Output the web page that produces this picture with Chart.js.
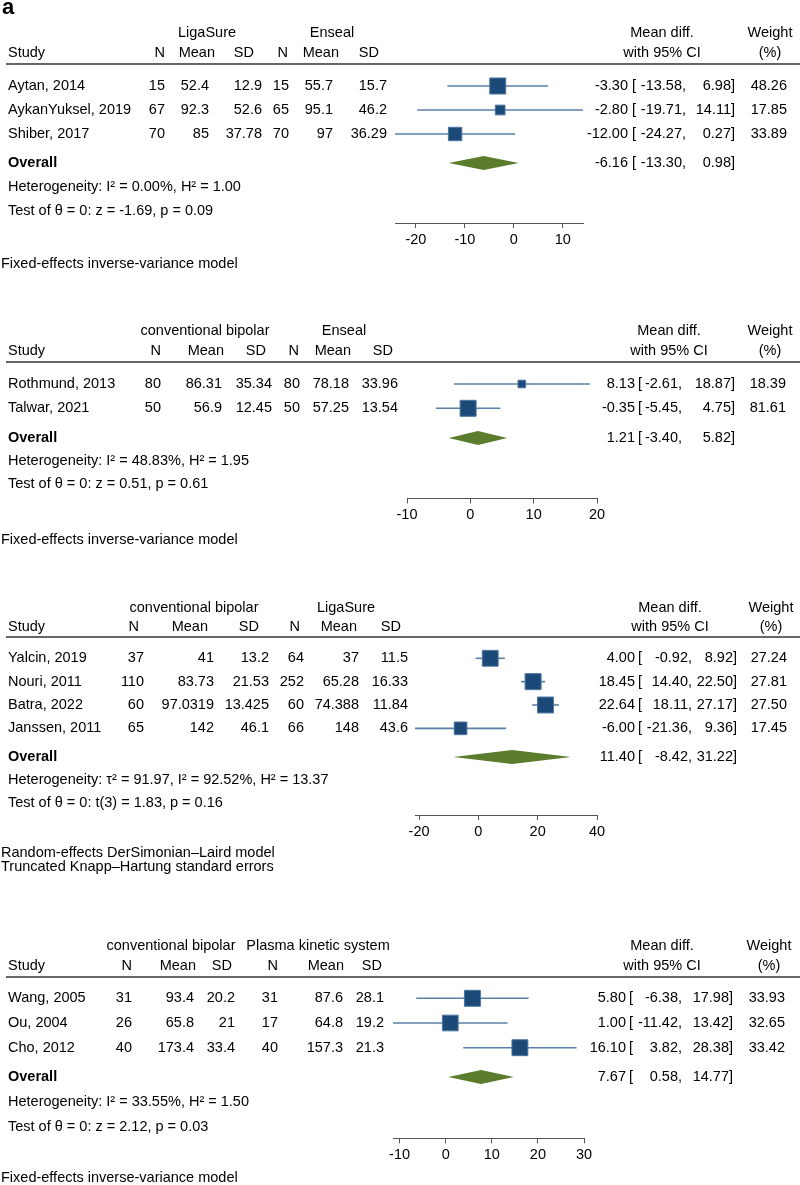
<!DOCTYPE html>
<html><head><meta charset="utf-8">
<script src="https://cdn.jsdelivr.net/npm/chart.js@4.4.1/dist/chart.umd.min.js"></script>
<style>
html,body{margin:0;padding:0;background:#fff;}
body{width:800px;height:1185px;position:relative;overflow:hidden;}
canvas{position:absolute;left:0;}
</style></head>
<body>
<canvas id="c1" width="800" height="280" style="top:0px"></canvas>
<canvas id="c2" width="800" height="270" style="top:280px"></canvas>
<canvas id="c3" width="800" height="330" style="top:550px"></canvas>
<canvas id="c4" width="800" height="305" style="top:880px"></canvas>
<script>
// ---------- DATA ----------
// Panel a1: LigaSure vs Enseal
const p1Groups = ["LigaSure", "Enseal"];
const p1Studies = ["Aytan, 2014", "AykanYuksel, 2019", "Shiber, 2017"];
const p1N1 = [15, 67, 70];
const p1Mean1 = [52.4, 92.3, 85];
const p1SD1 = [12.9, 52.6, 37.78];
const p1N2 = [15, 65, 70];
const p1Mean2 = [55.7, 95.1, 97];
const p1SD2 = [15.7, 46.2, 36.29];
const p1Est = [-3.30, -2.80, -12.00];
const p1Lo = [-13.58, -19.71, -24.27];
const p1Hi = [6.98, 14.11, 0.27];
const p1Weight = [48.26, 17.85, 33.89];
const p1Overall = [-6.16, -13.30, 0.98];
const p1Ticks = [-20, -10, 0, 10];
const p1Het = "Heterogeneity: I\u00B2 = 0.00%, H\u00B2 = 1.00";
const p1Test = "Test of \u03B8 = 0: z = -1.69, p = 0.09";
const p1Model = ["Fixed-effects inverse-variance model"];

// Panel 2: conventional bipolar vs Enseal
const p2Groups = ["conventional bipolar", "Enseal"];
const p2Studies = ["Rothmund, 2013", "Talwar, 2021"];
const p2N1 = [80, 50];
const p2Mean1 = [86.31, 56.9];
const p2SD1 = [35.34, 12.45];
const p2N2 = [80, 50];
const p2Mean2 = [78.18, 57.25];
const p2SD2 = [33.96, 13.54];
const p2Est = [8.13, -0.35];
const p2Lo = [-2.61, -5.45];
const p2Hi = [18.87, 4.75];
const p2Weight = [18.39, 81.61];
const p2Overall = [1.21, -3.40, 5.82];
const p2Ticks = [-10, 0, 10, 20];
const p2Het = "Heterogeneity: I\u00B2 = 48.83%, H\u00B2 = 1.95";
const p2Test = "Test of \u03B8 = 0: z = 0.51, p = 0.61";
const p2Model = ["Fixed-effects inverse-variance model"];

// Panel 3: conventional bipolar vs LigaSure
const p3Groups = ["conventional bipolar", "LigaSure"];
const p3Studies = ["Yalcin, 2019", "Nouri, 2011", "Batra, 2022", "Janssen, 2011"];
const p3N1 = [37, 110, 60, 65];
const p3Mean1 = [41, 83.73, 97.0319, 142];
const p3SD1 = [13.2, 21.53, 13.425, 46.1];
const p3N2 = [64, 252, 60, 66];
const p3Mean2 = [37, 65.28, 74.388, 148];
const p3SD2 = [11.5, 16.33, 11.84, 43.6];
const p3Est = [4.00, 18.45, 22.64, -6.00];
const p3Lo = [-0.92, 14.40, 18.11, -21.36];
const p3Hi = [8.92, 22.50, 27.17, 9.36];
const p3Weight = [27.24, 27.81, 27.50, 17.45];
const p3Overall = [11.40, -8.42, 31.22];
const p3Ticks = [-20, 0, 20, 40];
const p3Het = "Heterogeneity: \u03C4\u00B2 = 91.97, I\u00B2 = 92.52%, H\u00B2 = 13.37";
const p3Test = "Test of \u03B8 = 0: t(3) = 1.83, p = 0.16";
const p3Model = ["Random-effects DerSimonian\u2013Laird model", "Truncated Knapp\u2013Hartung standard errors"];

// Panel 4: conventional bipolar vs Plasma kinetic system
const p4Groups = ["conventional bipolar", "Plasma kinetic system"];
const p4Studies = ["Wang, 2005", "Ou, 2004", "Cho, 2012"];
const p4N1 = [31, 26, 40];
const p4Mean1 = [93.4, 65.8, 173.4];
const p4SD1 = [20.2, 21, 33.4];
const p4N2 = [31, 17, 40];
const p4Mean2 = [87.6, 64.8, 157.3];
const p4SD2 = [28.1, 19.2, 21.3];
const p4Est = [5.80, 1.00, 16.10];
const p4Lo = [-6.38, -11.42, 3.82];
const p4Hi = [17.98, 13.42, 28.38];
const p4Weight = [33.93, 32.65, 33.42];
const p4Overall = [7.67, 0.58, 14.77];
const p4Ticks = [-10, 0, 10, 20, 30];
const p4Het = "Heterogeneity: I\u00B2 = 33.55%, H\u00B2 = 1.50";
const p4Test = "Test of \u03B8 = 0: z = 2.12, p = 0.03";
const p4Model = ["Fixed-effects inverse-variance model"];

// ---------- LAYOUT (pixel positions relative to each panel canvas) ----------
const FONT = '"Liberation Sans", Arial, Helvetica, sans-serif';
const FS = 14.5;
const L1 = {H:280, groupY:33, headY:53, lineY:64, row0:86, pitch:24, overallY:163, hetY:187, testY:211, axisY:223, modelY:[264],
  groupX:[207,332], headX:[165,215,254,288,339,379], dataX:[165,209,262,289,333,387],
  mdX:662, wX:770, estX:628, brX:632, loX:686, hiX:735, wtX:787, plotL:395, plotR:583, label:true};
const L2 = {H:270, groupY:51, headY:71, lineY:82, row0:104, pitch:24.3, overallY:158, hetY:181, testY:204, axisY:218.5, modelY:[260],
  groupX:[205,344], headX:[161,224,266,299,351,393], dataX:[161,222,272,300,349,398],
  mdX:669, wX:770, estX:635, brX:638, loX:682, hiX:735, wtX:786, plotL:407, plotR:597};
const L3 = {H:330, groupY:58, headY:77, lineY:87, row0:108.3, pitch:23.35, overallY:207, hetY:229.5, testY:253, axisY:265, modelY:[303,317],
  groupX:[194,346], headX:[139,208,259,300,357,401], dataX:[144,214,269,304,359,408],
  mdX:670, wX:771, estX:635, brX:638, loX:692, hiX:737, wtX:787, plotL:415, plotR:597};
const L4 = {H:305, groupY:66, headY:86, lineY:97, row0:118.3, pitch:24.7, overallY:197, hetY:222, testY:247, axisY:258.3, modelY:[298],
  groupX:[171,318], headX:[132,196,232,278,344,382], dataX:[132,194,235,278,343,384],
  mdX:662, wX:769, estX:626, brX:629, loX:682, hiX:733, wtX:785, plotL:393, plotR:584};

const AXIS_H = 30;

function makePanel(id, L, D) {
  const n = D.studies.length;
  const rowVal = px => (px - L.row0) / L.pitch;
  const ovRow = rowVal(L.overallY);
  const dh = 7 / L.pitch;
  const wmax = Math.max(...D.weight);
  const xmin = Math.min(...D.lo, ...D.ticks);
  const xmax = Math.max(...D.hi, ...D.ticks);

  const datasets = [];
  datasets.push({
    data: D.est.map((e, i) => ({x: e, y: i})),
    showLine: false, pointStyle: 'rect',
    pointRadius: c => 16 * Math.sqrt(D.weight[c.dataIndex] / wmax) / Math.SQRT2,
    backgroundColor: '#1c4a78', borderColor: '#4d76a0', borderWidth: 1, order: 0
  });
  D.est.forEach((e, i) => {
    datasets.push({
      data: [{x: D.lo[i], y: i}, {x: D.hi[i], y: i}],
      showLine: true, pointRadius: 0, borderColor: '#5a80a7', borderWidth: 1.6, order: 1
    });
  });
  const [oe, ol, oh] = D.overall;
  datasets.push({
    data: [{x: ol, y: ovRow}, {x: oe, y: ovRow - dh}, {x: oh, y: ovRow}],
    showLine: true, pointRadius: 0, borderWidth: 0, fill: '+1', backgroundColor: '#5b7b2d', order: 2
  });
  datasets.push({
    data: [{x: ol, y: ovRow}, {x: oe, y: ovRow + dh}, {x: oh, y: ovRow}],
    showLine: true, pointRadius: 0, borderWidth: 0, fill: false, order: 3
  });

  const tablePlugin = {
    id: 'table' + id,
    afterDraw(chart) {
      const ctx = chart.ctx;
      const ys = chart.scales.y;
      ctx.save();
      ctx.fillStyle = '#000';
      ctx.textBaseline = 'middle';
      const T = (s, x, y, a, bold) => {
        ctx.font = (bold ? 'bold ' : '') + FS + 'px ' + FONT;
        ctx.textAlign = a; ctx.fillText(s, x, y);
      };
      if (L.label) {
        ctx.font = 'bold 22px ' + FONT; ctx.textAlign = 'left'; ctx.textBaseline = 'alphabetic';
        ctx.fillText('a', 2, 14);
        ctx.textBaseline = 'middle';
      }
      T(D.groups[0], L.groupX[0], L.groupY, 'center');
      T(D.groups[1], L.groupX[1], L.groupY, 'center');
      T('Mean diff.', L.mdX, L.groupY, 'center');
      T('Weight', L.wX, L.groupY, 'center');
      T('Study', 8, L.headY, 'left');
      ['N', 'Mean', 'SD', 'N', 'Mean', 'SD'].forEach((h, k) => T(h, L.headX[k], L.headY, 'right'));
      T('with 95% CI', L.mdX, L.headY, 'center');
      T('(%)', L.wX, L.headY, 'center');
      ctx.strokeStyle = '#333'; ctx.lineWidth = 1.5;
      ctx.beginPath(); ctx.moveTo(6, L.lineY); ctx.lineTo(800, L.lineY); ctx.stroke();
      const cols = [D.n1, D.mean1, D.sd1, D.n2, D.mean2, D.sd2];
      for (let i = 0; i < n; i++) {
        const y = ys.getPixelForValue(i);
        T(D.studies[i], 8, y, 'left');
        cols.forEach((c, k) => T(String(c[i]), L.dataX[k], y, 'right'));
        T(D.est[i].toFixed(2), L.estX, y, 'right');
        T('[', L.brX, y, 'left');
        T(D.lo[i].toFixed(2) + ',', L.loX, y, 'right');
        T(D.hi[i].toFixed(2) + ']', L.hiX, y, 'right');
        T(D.weight[i].toFixed(2), L.wtX, y, 'right');
      }
      const yo = ys.getPixelForValue(ovRow);
      T('Overall', 8, yo, 'left', true);
      T(oe.toFixed(2), L.estX, yo, 'right');
      T('[', L.brX, yo, 'left');
      T(ol.toFixed(2) + ',', L.loX, yo, 'right');
      T(oh.toFixed(2) + ']', L.hiX, yo, 'right');
      T(D.het, 8, L.hetY, 'left');
      T(D.test, 8, L.testY, 'left');
      D.model.forEach((m, k) => T(m, 1, L.modelY[k], 'left'));
      ctx.restore();
    }
  };

  return new Chart(document.getElementById(id), {
    type: 'scatter',
    data: {datasets},
    options: {
      responsive: false, animation: false, events: [],
      layout: {padding: {left: L.plotL, right: 800 - L.plotR, top: L.lineY, bottom: L.H - L.axisY - AXIS_H}},
      plugins: {legend: {display: false}, tooltip: {enabled: false}},
      scales: {
        x: {
          type: 'linear', position: 'bottom', min: xmin, max: xmax,
          afterBuildTicks: s => { s.ticks = D.ticks.map(v => ({value: v})); },
          afterFit: s => { s.height = AXIS_H; },
          grid: {drawOnChartArea: false, drawTicks: true, tickLength: 5, tickColor: '#555', tickWidth: 1},
          border: {display: true, color: '#555', width: 1},
          ticks: {color: '#000', font: {family: FONT, size: FS}, padding: 3, maxRotation: 0, autoSkip: false}
        },
        y: {type: 'linear', reverse: true, display: false,
            min: rowVal(L.lineY), max: rowVal(L.axisY)}
      }
    },
    plugins: [tablePlugin]
  });
}

makePanel('c1', L1, {groups:p1Groups, studies:p1Studies, n1:p1N1, mean1:p1Mean1, sd1:p1SD1, n2:p1N2, mean2:p1Mean2, sd2:p1SD2,
  est:p1Est, lo:p1Lo, hi:p1Hi, weight:p1Weight, overall:p1Overall, ticks:p1Ticks, het:p1Het, test:p1Test, model:p1Model});
makePanel('c2', L2, {groups:p2Groups, studies:p2Studies, n1:p2N1, mean1:p2Mean1, sd1:p2SD1, n2:p2N2, mean2:p2Mean2, sd2:p2SD2,
  est:p2Est, lo:p2Lo, hi:p2Hi, weight:p2Weight, overall:p2Overall, ticks:p2Ticks, het:p2Het, test:p2Test, model:p2Model});
makePanel('c3', L3, {groups:p3Groups, studies:p3Studies, n1:p3N1, mean1:p3Mean1, sd1:p3SD1, n2:p3N2, mean2:p3Mean2, sd2:p3SD2,
  est:p3Est, lo:p3Lo, hi:p3Hi, weight:p3Weight, overall:p3Overall, ticks:p3Ticks, het:p3Het, test:p3Test, model:p3Model});
makePanel('c4', L4, {groups:p4Groups, studies:p4Studies, n1:p4N1, mean1:p4Mean1, sd1:p4SD1, n2:p4N2, mean2:p4Mean2, sd2:p4SD2,
  est:p4Est, lo:p4Lo, hi:p4Hi, weight:p4Weight, overall:p4Overall, ticks:p4Ticks, het:p4Het, test:p4Test, model:p4Model});
</script>
</body></html>
